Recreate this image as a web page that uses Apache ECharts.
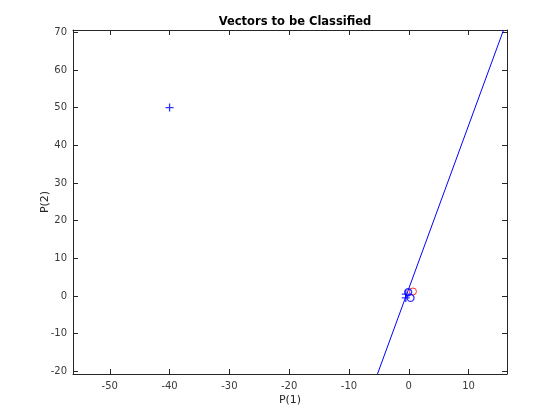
<!DOCTYPE html>
<html><head><meta charset="utf-8">
<script src="https://cdn.jsdelivr.net/npm/echarts@6/dist/echarts.min.js"></script>
<style>html,body{margin:0;padding:0;background:#fff}#c{width:560px;height:420px}</style>
</head><body><div id="c"></div>
<script>
const title = 'Vectors to be Classified';
const xLabel = 'P(1)';
const yLabel = 'P(2)';
const xTicks = [-50, -40, -30, -20, -10, 0, 10];
const yTicks = [-20, -10, 0, 10, 20, 30, 40, 50, 60, 70];
const xRange = [-56.15, 16.43];
const yRange = [-20.7, 70.6];
// training vectors, target 1 ('+')
const plusX = [-0.5, -0.5, -40];
const plusY = [-0.5, 0.5, 50];
// training vectors, target 0 ('o')
const circX = [0.3, -0.1];
const circY = [-0.5, 1.0];
// new vector classified (red)
const newX = [0.7];
const newY = [1.2];
// classification line endpoints
const lineX = [-5.23, 15.85];
const lineY = [-20.7, 70.6];

const zip = (a, b) => a.map((v, i) => [v, b[i]]);
const font = 'DejaVu Sans';
const axisCol = '#262626';
const labCol = '#3a3a3a';
const plusPath = 'path://M0,-10L0,10M-10,0L10,0';

function xAx(pos, show) {
  return {
    type: 'value', position: pos, min: xRange[0], max: xRange[1],
    splitLine: {show: false},
    axisLine: {show: true, onZero: false, lineStyle: {color: axisCol, width: 1}},
    axisTick: {show: true, inside: true, length: 5, customValues: xTicks, lineStyle: {color: axisCol}},
    axisLabel: {show: show, customValues: xTicks, color: labCol, fontFamily: font, fontSize: 10, margin: 7},
    name: show ? xLabel : '', nameLocation: 'middle', nameGap: 21, nameMoveOverlap: false,
    nameTextStyle: {color: axisCol, fontFamily: font, fontSize: 11}
  };
}
function yAx(pos, show) {
  return {
    type: 'value', position: pos, min: yRange[0], max: yRange[1],
    splitLine: {show: false},
    axisLine: {show: true, onZero: false, lineStyle: {color: axisCol, width: 1}},
    axisTick: {show: true, inside: true, length: 5, customValues: yTicks, lineStyle: {color: axisCol}},
    axisLabel: {show: show, customValues: yTicks, color: labCol, fontFamily: font, fontSize: 10, margin: 6},
    name: show ? yLabel : '', nameLocation: 'middle', nameGap: 22, nameMoveOverlap: false,
    nameTextStyle: {color: axisCol, fontFamily: font, fontSize: 11}
  };
}

const chart = echarts.init(document.getElementById('c'), null, {renderer: 'canvas'});
chart.setOption({
  backgroundColor: '#ffffff',
  animation: false,
  title: {
    text: title, left: 290, top: 11, textAlign: 'center',
    textStyle: {fontFamily: font, fontSize: 11.5, fontWeight: 'bold', color: '#000'}
  },
  grid: {left: 73, right: 53, top: 30, bottom: 46, show: false},
  xAxis: [xAx('bottom', true), xAx('top', false)],
  yAxis: [yAx('left', true), yAx('right', false)],
  series: [
    {
      type: 'line', data: zip(lineX, lineY), showSymbol: false, symbol: 'none',
      lineStyle: {color: '#0000ff', width: 1}, clip: true, z: 2
    },
    {
      type: 'scatter', data: zip(newX, newY), symbol: 'circle', symbolSize: 7,
      itemStyle: {color: 'none', borderColor: '#ff0000', borderWidth: 1}, z: 3
    },
    {
      type: 'scatter', data: zip(plusX, plusY), symbol: plusPath, symbolSize: 8,
      itemStyle: {color: 'none', borderColor: '#0000ff', borderWidth: 1.3}, z: 4
    },
    {
      type: 'scatter', data: zip(circX, circY), symbol: 'circle', symbolSize: 7,
      itemStyle: {color: 'none', borderColor: '#0000ff', borderWidth: 1.3}, z: 4
    }
  ]
});
</script></body></html>
